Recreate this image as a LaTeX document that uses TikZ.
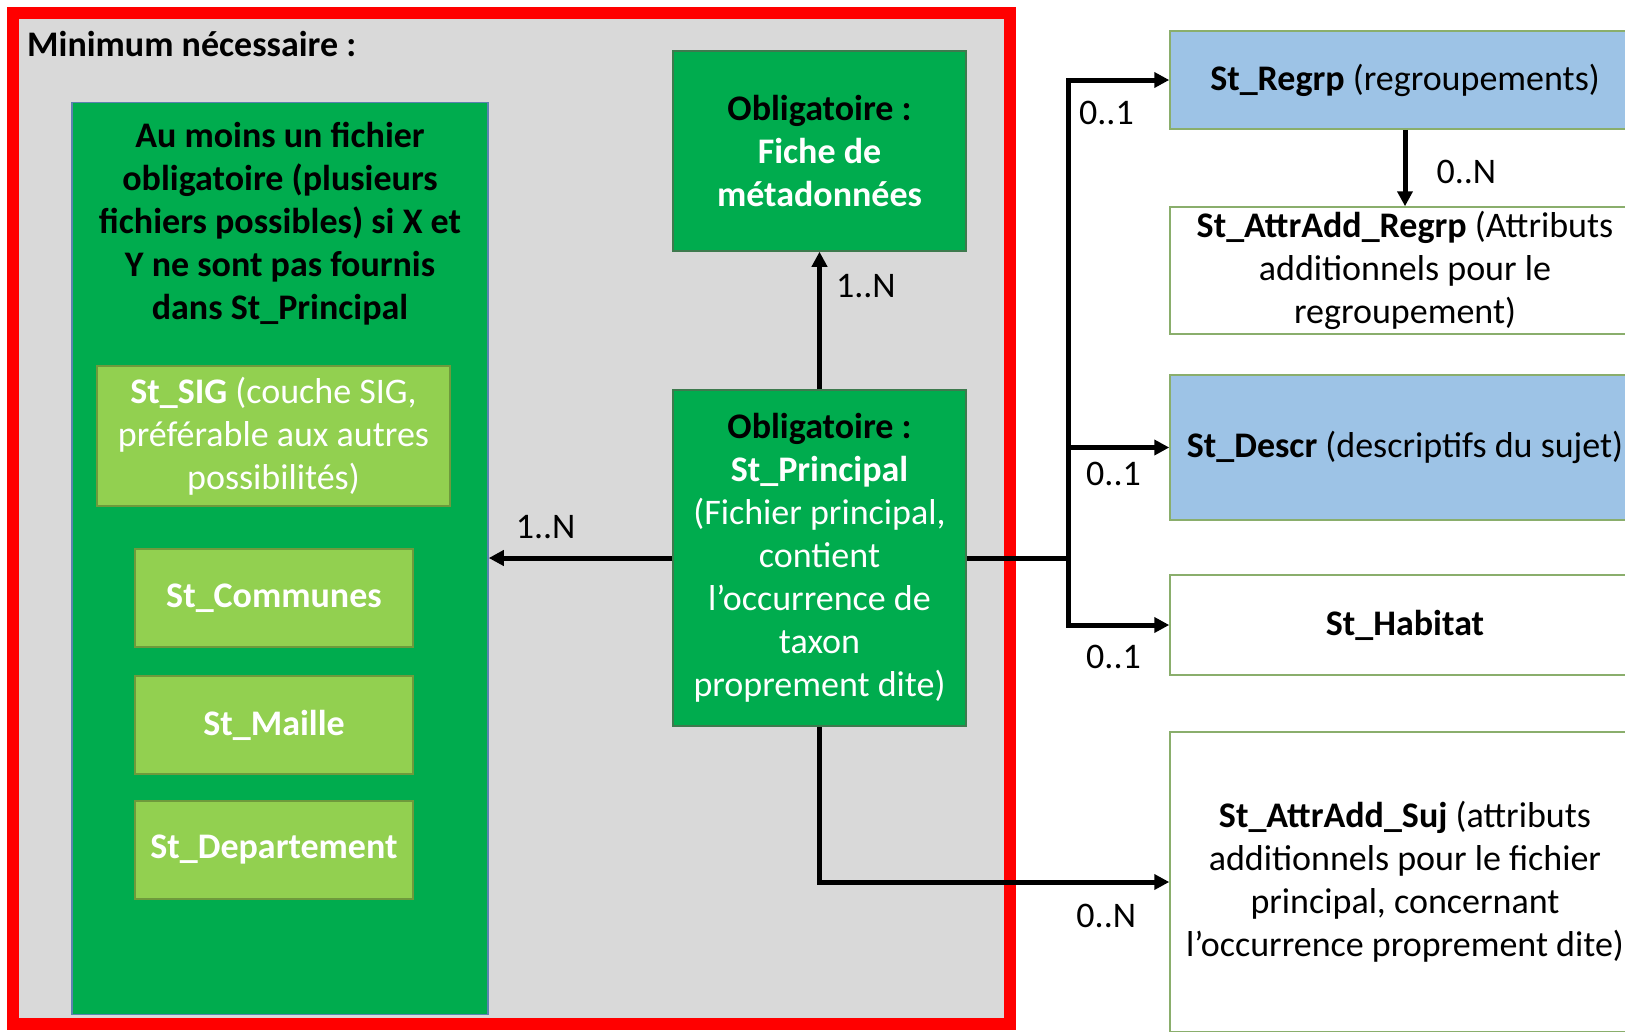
\documentclass[tikz,border=0pt]{standalone}
\usepackage{fontspec}
\setmainfont{Carlito}
\usepackage{tikz}
\usetikzlibrary{arrows.meta,positioning}
\definecolor{vertfonce}{HTML}{00AC4E}
\definecolor{vertclair}{HTML}{92D050}
\definecolor{ciel}{HTML}{9DC3E6}
\definecolor{fond}{HTML}{D9D9D9}
\definecolor{bordbleu}{HTML}{5B82B0}
\definecolor{bordsombre}{HTML}{3E7A4E}
\definecolor{bordolive}{HTML}{6E9A3C}
\definecolor{bordvert}{HTML}{8AAE6C}
\tikzstyle{boite}=[draw,rectangle,inner sep=0pt,align=center,line width=1.5pt]
\tikzstyle{oblig}=[boite,fill=vertfonce,draw=bordsombre]
\tikzstyle{secours}=[boite,fill=vertclair,draw=bordolive,text=white]
\tikzstyle{bleu}=[boite,fill=ciel,draw=bordvert,minimum width=470]
\tikzstyle{blanc}=[boite,fill=white,draw=bordvert,minimum width=470]
\tikzstyle{fleche}=[line width=5pt,-{Triangle[length=15pt,width=15pt]}]
\tikzstyle{mult}=[inner sep=0pt]

\begin{document}
\begin{tikzpicture}[x=1pt,y=-1pt]
\fontsize{36}{43}\selectfont
\useasboundingbox (0,0) rectangle (1625,1031);
% zone du minimum
\node[draw=red,line width=12pt,fill=fond,minimum width=997,minimum height=1011] (cadre) at (511.5,518.5) {};
\node[anchor=west,inner sep=0pt,font=\bfseries] (titre) at (27,44) {Minimum nécessaire :};
\node[oblig,draw=bordbleu,minimum width=416,minimum height=912] (zone) at (280,558.5) {};
\node[align=center,font=\bfseries] (zonetxt) at (280,224)
  {Au moins un fichier\\ obligatoire (plusieurs\\ fichiers possibles) si X et\\ Y ne sont pas fournis\\ dans St\_Principal};
\node[secours,minimum width=353,minimum height=140] (sig) at (273.5,436)
  {\textbf{St\_SIG} (couche SIG,\\ préférable aux autres\\ possibilités)};
\foreach \y/\nom/\txt in {598/communes/St\_Communes, 725/maille/St\_Maille, 850/dept/St\_Departement}
  \node[secours,minimum width=278,minimum height=98,font=\bfseries] (\nom) at (274,\y) {\txt};

\node[oblig,minimum width=293,minimum height=200,font=\bfseries,text=white] (fiche) at (819.5,151)
  {\textcolor{black}{Obligatoire :}\\ Fiche de\\ métadonnées};
\node[oblig,minimum width=293,minimum height=336,text=white] (principal) at (819.5,558)
  {\textbf{\textcolor{black}{Obligatoire :}}\\ \textbf{St\_Principal}\\ (Fichier principal,\\ contient\\ l’occurrence de\\ taxon\\ proprement dite)};

% fichiers facultatifs
\node[bleu,minimum height=98] (regrp) at (1405,80) {\textbf{St\_Regrp} (regroupements)};
\node[blanc,minimum height=127] (attrregrp) at (1405,270.5)
  {\textbf{St\_AttrAdd\_Regrp} (Attributs\\ additionnels pour le\\ regroupement)};
\node[bleu,minimum height=145] (descr) at (1405,447.5) {\textbf{St\_Descr} (descriptifs du sujet)};
\node[blanc,minimum height=100] (habitat) at (1405,625) {\textbf{St\_Habitat}};
\node[blanc,minimum height=300] (attrsuj) at (1405,882)
  {\textbf{St\_AttrAdd\_Suj} (attributs\\ additionnels pour le fichier\\ principal, concernant\\ l’occurrence proprement dite)};

\coordinate (bus) at (1068,558);
\draw[fleche] (principal.west) -- node[mult,above=17pt,pos=0.69]{1..N} (principal.west -| zone.east);
\draw[fleche] (principal.north) -- node[mult,right=14pt,pos=0.75]{1..N} (fiche.south);
\draw[line width=5pt] (principal.east) -- (bus);
\draw[fleche] (bus) |- node[mult,below=19pt,pos=0.69]{0..1} (regrp.west);
\draw[fleche] (bus) |- node[mult,below=12pt,pos=0.725]{0..1} (descr.west);
\draw[fleche] (bus) |- node[mult,below=18pt,pos=0.725]{0..1} (habitat.west);
\draw[fleche] (regrp.south) -- node[mult,right=29pt,pos=0.55]{0..N} (attrregrp.north);
\draw[fleche] (principal.south) |- node[mult,below=20pt,pos=0.91]{0..N} (attrsuj.west);
\end{tikzpicture}
\end{document}
